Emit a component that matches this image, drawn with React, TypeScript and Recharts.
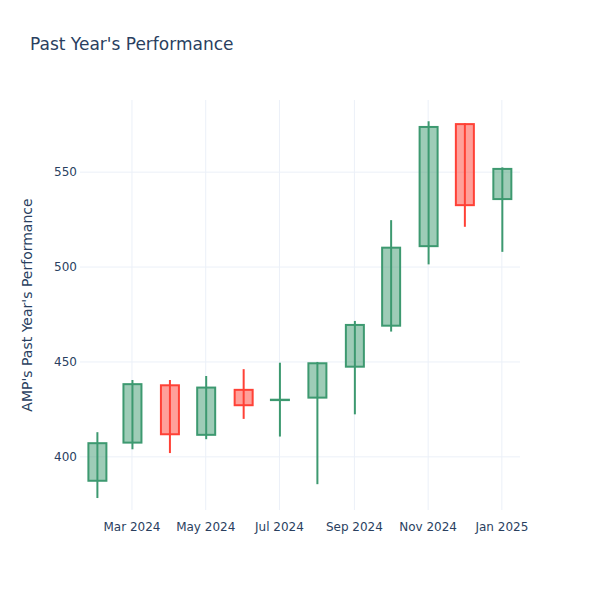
import { Bar, CartesianGrid, ComposedChart, XAxis, YAxis } from 'recharts';

const months = [
  '2024-02-01', '2024-03-01', '2024-04-01', '2024-05-01', '2024-06-01', '2024-07-01',
  '2024-08-01', '2024-09-01', '2024-10-01', '2024-11-01', '2024-12-01', '2025-01-01',
];
const opens = [387.4, 407.5, 437.7, 411.6, 435.3, 429.9, 431.2, 447.5, 469.1, 511.0, 575.3, 535.8];
const highs = [413.0, 440.5, 440.5, 442.6, 446.2, 449.6, 450.0, 471.6, 524.7, 576.8, 575.8, 552.5];
const lows = [378.3, 404.0, 402.0, 409.3, 420.0, 410.7, 385.6, 422.4, 466.0, 501.4, 521.2, 508.0];
const closes = [407.2, 438.3, 411.9, 436.5, 427.2, 430.1, 449.3, 469.5, 510.2, 573.8, 532.6, 551.7];

const tickDates = ['2024-03-01', '2024-05-01', '2024-07-01', '2024-09-01', '2024-11-01', '2025-01-01'];
const tickLabels = ['Mar 2024', 'May 2024', 'Jul 2024', 'Sep 2024', 'Nov 2024', 'Jan 2025'];
const yTicks = [400, 450, 500, 550];

const toTime = (d: string) => new Date(d + 'T00:00:00Z').getTime();

const data = months.map((m, i) => ({
  t: toTime(m),
  open: opens[i],
  high: highs[i],
  low: lows[i],
  close: closes[i],
  range: [lows[i], highs[i]],
}));

const xTicks = tickDates.map(toTime);
const labelFor = (v: number) => tickLabels[xTicks.indexOf(v)] ?? '';

const UP = '#3D9970';
const DOWN = '#FF4136';
const FONT = '"DejaVu Sans", Verdana, sans-serif';

function Candle(props: any) {
  const { x, y, width, height, payload } = props;
  const top = Math.min(y, y + height);
  const h = Math.abs(height);
  const { open, close, high, low } = payload;
  const span = high - low || 1;
  const py = (v: number) => top + ((high - v) / span) * h;
  const up = close >= open;
  const color = up ? UP : DOWN;
  const cx = x + width / 2;
  const bodyTop = py(Math.max(open, close));
  const bodyBot = py(Math.min(open, close));
  return (
    <g>
      <line x1={cx} x2={cx} y1={top} y2={top + h} stroke={color} strokeWidth={2} />
      <rect
        x={x}
        y={bodyTop}
        width={width}
        height={Math.max(bodyBot - bodyTop, 0)}
        fill={color}
        fillOpacity={0.5}
        stroke={color}
        strokeWidth={2}
      />
    </g>
  );
}

export default function App() {
  return (
    <div style={{ position: 'absolute', left: 0, top: 0, width: 600, height: 600, background: '#fff' }}>
      <div
        style={{
          position: 'absolute',
          left: 30,
          top: 34,
          fontFamily: FONT,
          fontSize: 17,
          color: '#2a3f5f',
          whiteSpace: 'nowrap',
        }}
      >
        Past Year's Performance
      </div>
      <ComposedChart
        width={600}
        height={600}
        data={data}
        margin={{ top: 100, right: 80, bottom: 60, left: 0 }}
      >
        <CartesianGrid
          stroke="#ebf0f8"
          strokeWidth={1}
          horizontalValues={yTicks}
          verticalValues={xTicks}
        />
        <XAxis
          dataKey="t"
          type="number"
          domain={[toTime('2024-01-18'), toTime('2025-01-16')]}
          ticks={xTicks}
          tickFormatter={labelFor}
          axisLine={false}
          tickLine={false}
          tickSize={0}
          tickMargin={12}
          height={30}
          tick={{ fill: '#2a3f5f', fontSize: 12, fontFamily: FONT }}
          allowDataOverflow
        />
        <YAxis
          type="number"
          domain={[372, 588]}
          ticks={yTicks}
          axisLine={false}
          tickLine={false}
          tickSize={0}
          tickMargin={3}
          width={80}
          tick={{ fill: '#2a3f5f', fontSize: 12, fontFamily: FONT }}
          allowDataOverflow
          label={{
            content: () => (
              <text
                x={0}
                y={0}
                transform="translate(32,305) rotate(-90)"
                textAnchor="middle"
                fill="#2a3f5f"
                fontSize={14}
                fontFamily={FONT}
              >
                AMP's Past Year's Performance
              </text>
            ),
          }}
        />
        <Bar dataKey="range" barSize={18} shape={Candle} isAnimationActive={false} />
      </ComposedChart>
    </div>
  );
}
